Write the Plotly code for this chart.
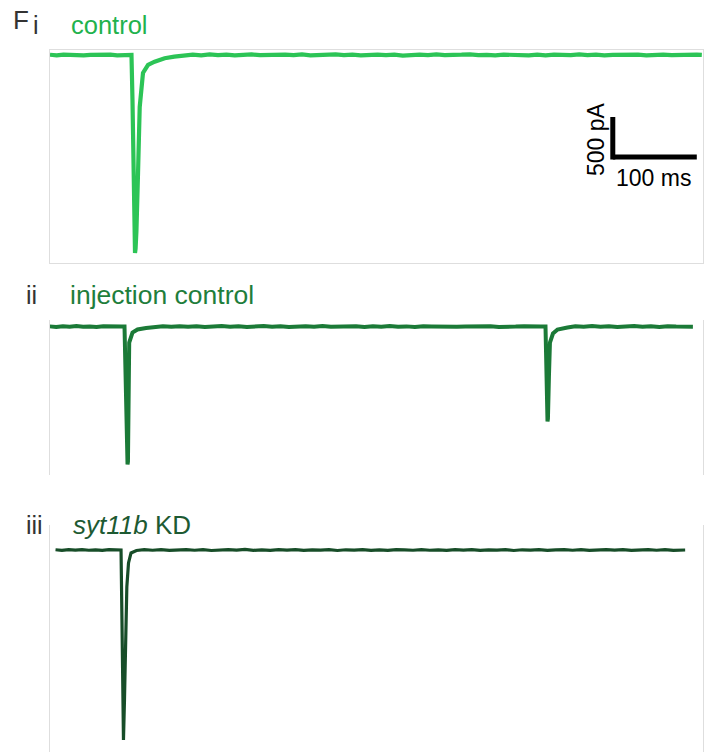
import plotly.graph_objects as go

# ---------------- data (time in ms, current in pA) ----------------
t_control = [0, 8, 16, 24, 32, 40, 48, 56, 64, 72, 80, 88, 94, 97.0,
             98.2, 99.4, 100.5, 101.2, 101.9, 102.9, 104.8, 106.8, 110.7, 116.7, 124.6, 136.5, 148, 158.3,
             170, 180, 190, 200, 210, 220, 230, 240, 250, 260, 270, 280, 290, 300, 310, 320,
             330, 340, 350, 360, 370, 380, 390, 400, 410, 420, 430, 440, 450, 460, 470, 480,
             490, 500, 510, 520, 530, 540, 550, 560, 570, 580, 590, 600, 610, 620, 630, 640,
             650, 660, 670, 680, 690, 700, 710, 720, 730, 740, 750, 760, 770, 776]
i_control = [3, -4, 5, -2, 4, -5, 2, 6, -3, 3, -4, 2, -1, 0,
             -562, -1812, -2420, -2475, -2420, -2200, -1475, -650, -225, -125, -84, -41, -20, -5,
             3, -4, 6, -2, 5, -5, 3, 7, -3, 2, -6, 4, -1, 6, -4, 2,
             -5, 7, -2, 3, -6, 1, 5, -3, 4, -7, 2, 5, -3, 6, -1, -5,
             3, 8, -2, 2, -5, 4, -1, 6, -4, 3, -6, 5, 1, -3, 7, -2,
             4, -5, 2, 6, -3, 4, -4, 2, 5, -2, 3, -5, 3, 0]

t_injection = [0, 8, 16, 24, 32, 40, 48, 56, 64, 72, 80, 86, 89.3,
               90.5, 91.7, 92.4, 92.9, 93.4, 93.8, 94.2, 94.9, 98.8, 104.8, 115, 125,
               135, 145, 155, 165, 175, 185, 195, 205, 215, 225, 235, 245, 255, 265, 275, 285,
               295, 305, 315, 325, 335, 345, 355, 365, 375, 385, 395, 405, 415, 425, 435, 445,
               455, 465, 475, 485, 495, 505, 515, 525, 535, 545, 555, 565, 575, 585, 590.5,
               591.7, 592.5, 592.9, 593.4, 594.6, 595.8, 599.4, 604.8, 616.7,
               626, 636, 646, 656, 666, 676, 686, 696, 706, 716, 726, 736, 746, 756, 766]
i_injection = [2, -5, 4, -2, 6, -3, 1, -5, 4, -2, 3, -1, 0,
               -662, -1412, -1690, -1725, -1690, -1412, -625, -200, -75, -37, -18, -8,
               3, -4, 5, -2, 4, -6, 2, 6, -3, 3, -5, 2, 6, -3, 4, -6,
               1, 5, -2, 7, -4, 3, -1, 5, -5, 3, -2, 6, -4, 2, -6, 4,
               1, -3, 5, -4, 2, 6, -2, 4, -5, 3, -1, 4, -3, 2, 0,
               -662, -1150, -1187, -1150, -625, -200, -87, -37, -12,
               3, -4, 6, -2, 5, -5, 2, 6, -3, 4, -5, 5, -1, 4, -2]

t_kd = [2.4, 10, 18, 26, 34, 42, 50, 58, 66, 74, 78, 80.4,
        81.5, 82.7, 83.3, 84.5, 85.7, 87.3, 89.3, 92.3, 98.8,
        108, 118, 128, 138, 148, 158, 168, 178, 188, 198, 208, 218, 228, 238, 248, 258,
        268, 278, 288, 298, 308, 318, 328, 338, 348, 358, 368, 378, 388, 398, 408, 418,
        428, 438, 448, 458, 468, 478, 488, 498, 508, 518, 528, 538, 548, 558, 568, 578,
        588, 598, 608, 618, 628, 638, 648, 658, 668, 678, 688, 698, 708, 718, 728, 738,
        748, 752]
i_kd = [3, -4, 5, -2, 6, -3, 2, -5, 4, -2, 2, 0,
        -875, -1875, -2375, -1875, -1287, -462, -162, -37, -6,
        4, -3, 5, -5, 2, 6, -3, 4, -6, 2, 5, -2, 7, -4, 1, -5,
        4, -2, 6, -4, 3, -1, 5, -6, 3, -2, 6, -4, 2, -5, 5, 1,
        -3, 6, -3, 2, -5, 4, -1, 6, -4, 3, -2, 5, -6, 3, -2, 5,
        -4, 2, 6, -3, 4, -5, 2, 6, -2, 4, -5, 1, 5, -3, 4, -4,
        3, 0]

scale_ms = 100      # horizontal scale bar (ms)
scale_pa = 500      # vertical scale bar (pA)

# ---------------- styling ----------------
W, H = 718, 756
C1, C1_TXT = "#2cc456", "#22b24d"
C2, C2_TXT = "#1b7a37", "#1f7e3c"
C3, C3_TXT = "#174d28", "#1d5a32"
BOX = "#dedede"
FONT = "Liberation Sans, Arial, sans-serif"


def px(x):
    return x / W


def py(y):
    return 1 - y / H


fig = go.Figure()
fig.add_trace(go.Scatter(x=t_control, y=i_control, mode="lines",
                         line=dict(color=C1, width=4.2), xaxis="x", yaxis="y",
                         showlegend=False, hoverinfo="skip"))
fig.add_trace(go.Scatter(x=t_injection, y=i_injection, mode="lines",
                         line=dict(color=C2, width=4), xaxis="x2", yaxis="y2",
                         showlegend=False, hoverinfo="skip"))
fig.add_trace(go.Scatter(x=t_kd, y=i_kd, mode="lines",
                         line=dict(color=C3, width=3.2), xaxis="x3", yaxis="y3",
                         showlegend=False, hoverinfo="skip"))

ax = dict(showticklabels=False, showgrid=False, zeroline=False, ticks="",
          showline=True, mirror=True, linecolor=BOX, linewidth=1, fixedrange=True)

fig.update_layout(
    width=W, height=H, margin=dict(l=0, r=0, t=0, b=0),
    paper_bgcolor="white", plot_bgcolor="white",
    xaxis=dict(ax, domain=[px(50), px(702.5)], range=[0, 776.8]),
    yaxis=dict(ax, domain=[py(263), py(50)], range=[-2600, 62]),
    xaxis2=dict(ax, domain=[px(49.5), px(694)], range=[0, 767.3]),
    yaxis2=dict(ax, domain=[py(474.5), py(319.5)], range=[-1850, 88]),
    xaxis3=dict(ax, domain=[px(53.5), px(686)], range=[0, 753]),
    yaxis3=dict(ax, domain=[py(752), py(524.5)], range=[-2525, 319]),
)

# scale bar in panel i
sb_x0, sb_y0 = 670, -1275
fig.add_shape(type="line", xref="x", yref="y", x0=sb_x0, x1=sb_x0 + scale_ms,
              y0=sb_y0, y1=sb_y0, line=dict(color="black", width=5))
fig.add_shape(type="line", xref="x", yref="y", x0=sb_x0, x1=sb_x0,
              y0=sb_y0 - 30, y1=sb_y0 + scale_pa, line=dict(color="black", width=5))

annos = [
    dict(text="F", x=px(11), y=py(20), font=dict(size=26, color="#333333")),
    dict(text="i", x=px(31), y=py(25), font=dict(size=25, color="#333333")),
    dict(text="control", x=px(69), y=py(25), font=dict(size=25.5, color=C1_TXT)),
    dict(text="ii", x=px(24), y=py(295), font=dict(size=25, color="#333333")),
    dict(text="injection control", x=px(68), y=py(295), font=dict(size=26.5, color=C2_TXT)),
    dict(text="iii", x=px(24), y=py(525), font=dict(size=25, color="#333333")),
    dict(text="<i>syt11b</i> KD", x=px(71), y=py(525), font=dict(size=26, color=C3_TXT)),
    dict(text=f"{scale_ms} ms", x=px(614), y=py(178), font=dict(size=23, color="black")),
]
for a in annos:
    fig.add_annotation(xref="paper", yref="paper", xanchor="left", yanchor="middle",
                       showarrow=False, **{k: v for k, v in a.items() if k != "font"},
                       font=dict(family=FONT, **a["font"]))
fig.add_annotation(xref="paper", yref="paper", x=px(596), y=py(139), text=f"{scale_pa} pA",
                   textangle=-90, showarrow=False, xanchor="center", yanchor="middle",
                   font=dict(family=FONT, size=23, color="black"))

fig.write_html("out.html")
